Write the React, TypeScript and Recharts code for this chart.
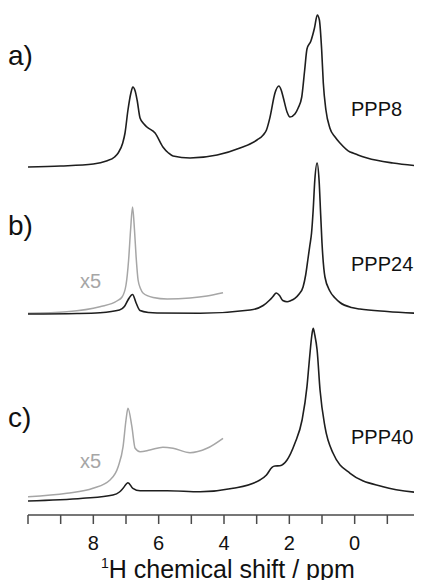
import React from 'react';
import { LineChart, Line, XAxis, YAxis } from 'recharts';

// Spectrum a) PPP8 — chemical shift (ppm) and stacked intensity (a.u.)
const ppmA = [10, 9.0, 8.0, 7.6, 7.35, 7.24, 7.1, 7.03, 6.94, 6.85, 6.79, 6.72, 6.66, 6.57, 6.45, 6.36, 6.11, 5.87, 5.7, 5.56, 5.04, 4.21, 3.51, 2.99, 2.8, 2.7, 2.59, 2.44, 2.32, 2.25, 2.19, 2.07, 1.98, 1.83, 1.73, 1.62, 1.53, 1.46, 1.34, 1.23, 1.144, 1.08, 1.01, 0.96, 0.88, 0.76, 0.6, 0.45, 0.14, 0.05, -0.1, -0.38, -1.17, -2];
const intA = [348, 349, 351, 354, 358, 362, 372, 382, 405, 422, 428, 424, 415, 397, 391, 388, 382, 368, 362, 359, 357, 360, 367, 375, 380, 385, 398, 422, 429, 425, 418, 403, 398, 401, 407, 418, 445, 466, 474, 487, 500, 495, 465, 432, 405, 387, 378, 372, 363, 362, 360, 357, 352, 349];

// Spectrum b) PPP24
const ppmB = [10, 8.5, 7.8, 7.2, 7.05, 6.94, 6.8, 6.69, 6.57, 6.3, 6.05, 4.73, 3.2, 2.8, 2.6, 2.5, 2.4, 2.3, 2.2, 2.07, 1.95, 1.83, 1.7, 1.58, 1.5, 1.43, 1.37, 1.32, 1.27, 1.22, 1.15, 1.09, 1.04, 1.0, 0.91, 0.76, 0.6, 0.45, 0.1, -0.16, -1.0, -2];
const intB = [201, 201.5, 202.3, 205, 208.5, 215, 220.5, 212, 204.5, 202.5, 202, 201.7, 205, 209.5, 215, 218.5, 222, 219.5, 214.5, 213.3, 214.5, 216.7, 221, 228, 240, 256, 270, 282, 305, 335, 352, 335, 300, 272, 238, 224, 217, 212.5, 207.5, 206, 203.5, 201.5];
// b) x5 expansion
const ppmBx5 = [10, 8.81, 7.8, 7.28, 7.12, 7.0, 6.92, 6.86, 6.8, 6.74, 6.69, 6.63, 6.55, 6.48, 6.17, 5.74, 5.04, 4.52, 4.03];
const intBx5 = [201.7, 203.3, 208.3, 214, 218, 230, 255, 285, 308, 285, 258, 235, 226, 222, 217.5, 216, 217, 219, 222.3];

// Spectrum c) PPP40
const ppmC = [10, 8.32, 7.4, 7.2, 7.09, 6.94, 6.79, 6.57, 5.74, 4.73, 3.72, 2.9, 2.7, 2.53, 2.44, 2.29, 2.07, 1.83, 1.61, 1.46, 1.4, 1.35, 1.31, 1.27, 1.22, 1.15, 1.06, 0.91, 0.66, 0.14, -0.87, -2];
const intC = [14, 16.7, 20, 23, 26.7, 32.3, 26.7, 24.3, 24.3, 23.3, 26.7, 35, 40, 47.7, 49, 49.3, 55, 71.7, 95, 128.3, 150, 168, 180, 186.7, 180, 165, 125, 88.3, 61.7, 41.7, 28.3, 22.3];
// c) x5 expansion
const ppmCx5 = [10, 8.81, 8.01, 7.49, 7.24, 7.09, 7.0, 6.94, 6.82, 6.72, 6.57, 6.27, 5.87, 5.56, 5.04, 4.52, 4.03];
const intCx5 = [18.3, 21.7, 26.7, 35, 48.3, 68.3, 95, 106.7, 88.3, 66.7, 63.3, 65, 67.7, 66.7, 62.3, 66.7, 76.7];

const xTicks = [10, 9, 8, 7, 6, 5, 4, 3, 2, 1, 0, -1];
const xLabels = [8, 6, 4, 2, 0];
const xDomain = [-2, 10];
const yDomain = [0, 515];

const toRows = (xs: number[], ys: number[]) => xs.map((p, i) => ({ ppm: p, v: ys[i] }));

const dataA = toRows(ppmA, intA);
const dataB = toRows(ppmB, intB);
const dataBx5 = toRows(ppmBx5, intBx5);
const dataC = toRows(ppmC, intC);
const dataCx5 = toRows(ppmCx5, intCx5);

const FONT = '"Liberation Sans", Arial, Helvetica, sans-serif';
const BLACK = '#1e1e1e';
const GRAY = '#a6a6a6';

const Tick = (props: any) => {
  const { x, y, payload } = props;
  if (!xLabels.includes(payload.value)) return <g />;
  return (
    <text x={x} y={y + 24} textAnchor="middle" fontFamily={FONT} fontSize={20} fill="#111">
      {payload.value}
    </text>
  );
};

export default function App() {
  return (
    <div style={{ position: 'relative', width: 422, height: 588, margin: -8, background: '#fff' }}>
      <LineChart width={422} height={588} margin={{ top: 0, right: 2, left: 28, bottom: 0 }}>
        <XAxis
          type="number"
          dataKey="ppm"
          domain={xDomain}
          reversed
          allowDataOverflow
          ticks={xTicks}
          interval={0}
          height={73}
          tickSize={9}
          tickMargin={2}
          stroke="#4a4a4a"
          strokeWidth={1.5}
          tick={<Tick />}
        />
        <YAxis type="number" domain={yDomain} hide allowDataOverflow />
        <Line data={dataA} dataKey="v" type="monotone" stroke={BLACK} strokeWidth={1.6} dot={false} isAnimationActive={false} />
        <Line data={dataBx5} dataKey="v" type="monotone" stroke={GRAY} strokeWidth={1.5} dot={false} isAnimationActive={false} />
        <Line data={dataB} dataKey="v" type="monotone" stroke={BLACK} strokeWidth={1.6} dot={false} isAnimationActive={false} />
        <Line data={dataCx5} dataKey="v" type="monotone" stroke={GRAY} strokeWidth={1.5} dot={false} isAnimationActive={false} />
        <Line data={dataC} dataKey="v" type="monotone" stroke={BLACK} strokeWidth={1.6} dot={false} isAnimationActive={false} />
      </LineChart>
      <svg width={422} height={588} style={{ position: 'absolute', left: 0, top: 0, pointerEvents: 'none' }}>
        <g fontFamily={FONT} fill="#111">
          <text x={8} y={65} fontSize={28}>a)</text>
          <text x={8} y={235} fontSize={28}>b)</text>
          <text x={8} y={427} fontSize={28}>c)</text>
          <text x={351} y={116} fontSize={20}>PPP8</text>
          <text x={351} y={271} fontSize={20}>PPP24</text>
          <text x={351} y={444} fontSize={20}>PPP40</text>
          <text x={80} y={288} fontSize={20} fill={GRAY}>x5</text>
          <text x={80} y={468} fontSize={20} fill={GRAY}>x5</text>
          <text x={101} y={578} fontSize={25}>
            <tspan fontSize={14} dy={-10}>1</tspan>
            <tspan dy={10}>H chemical shift / ppm</tspan>
          </text>
        </g>
      </svg>
    </div>
  );
}
